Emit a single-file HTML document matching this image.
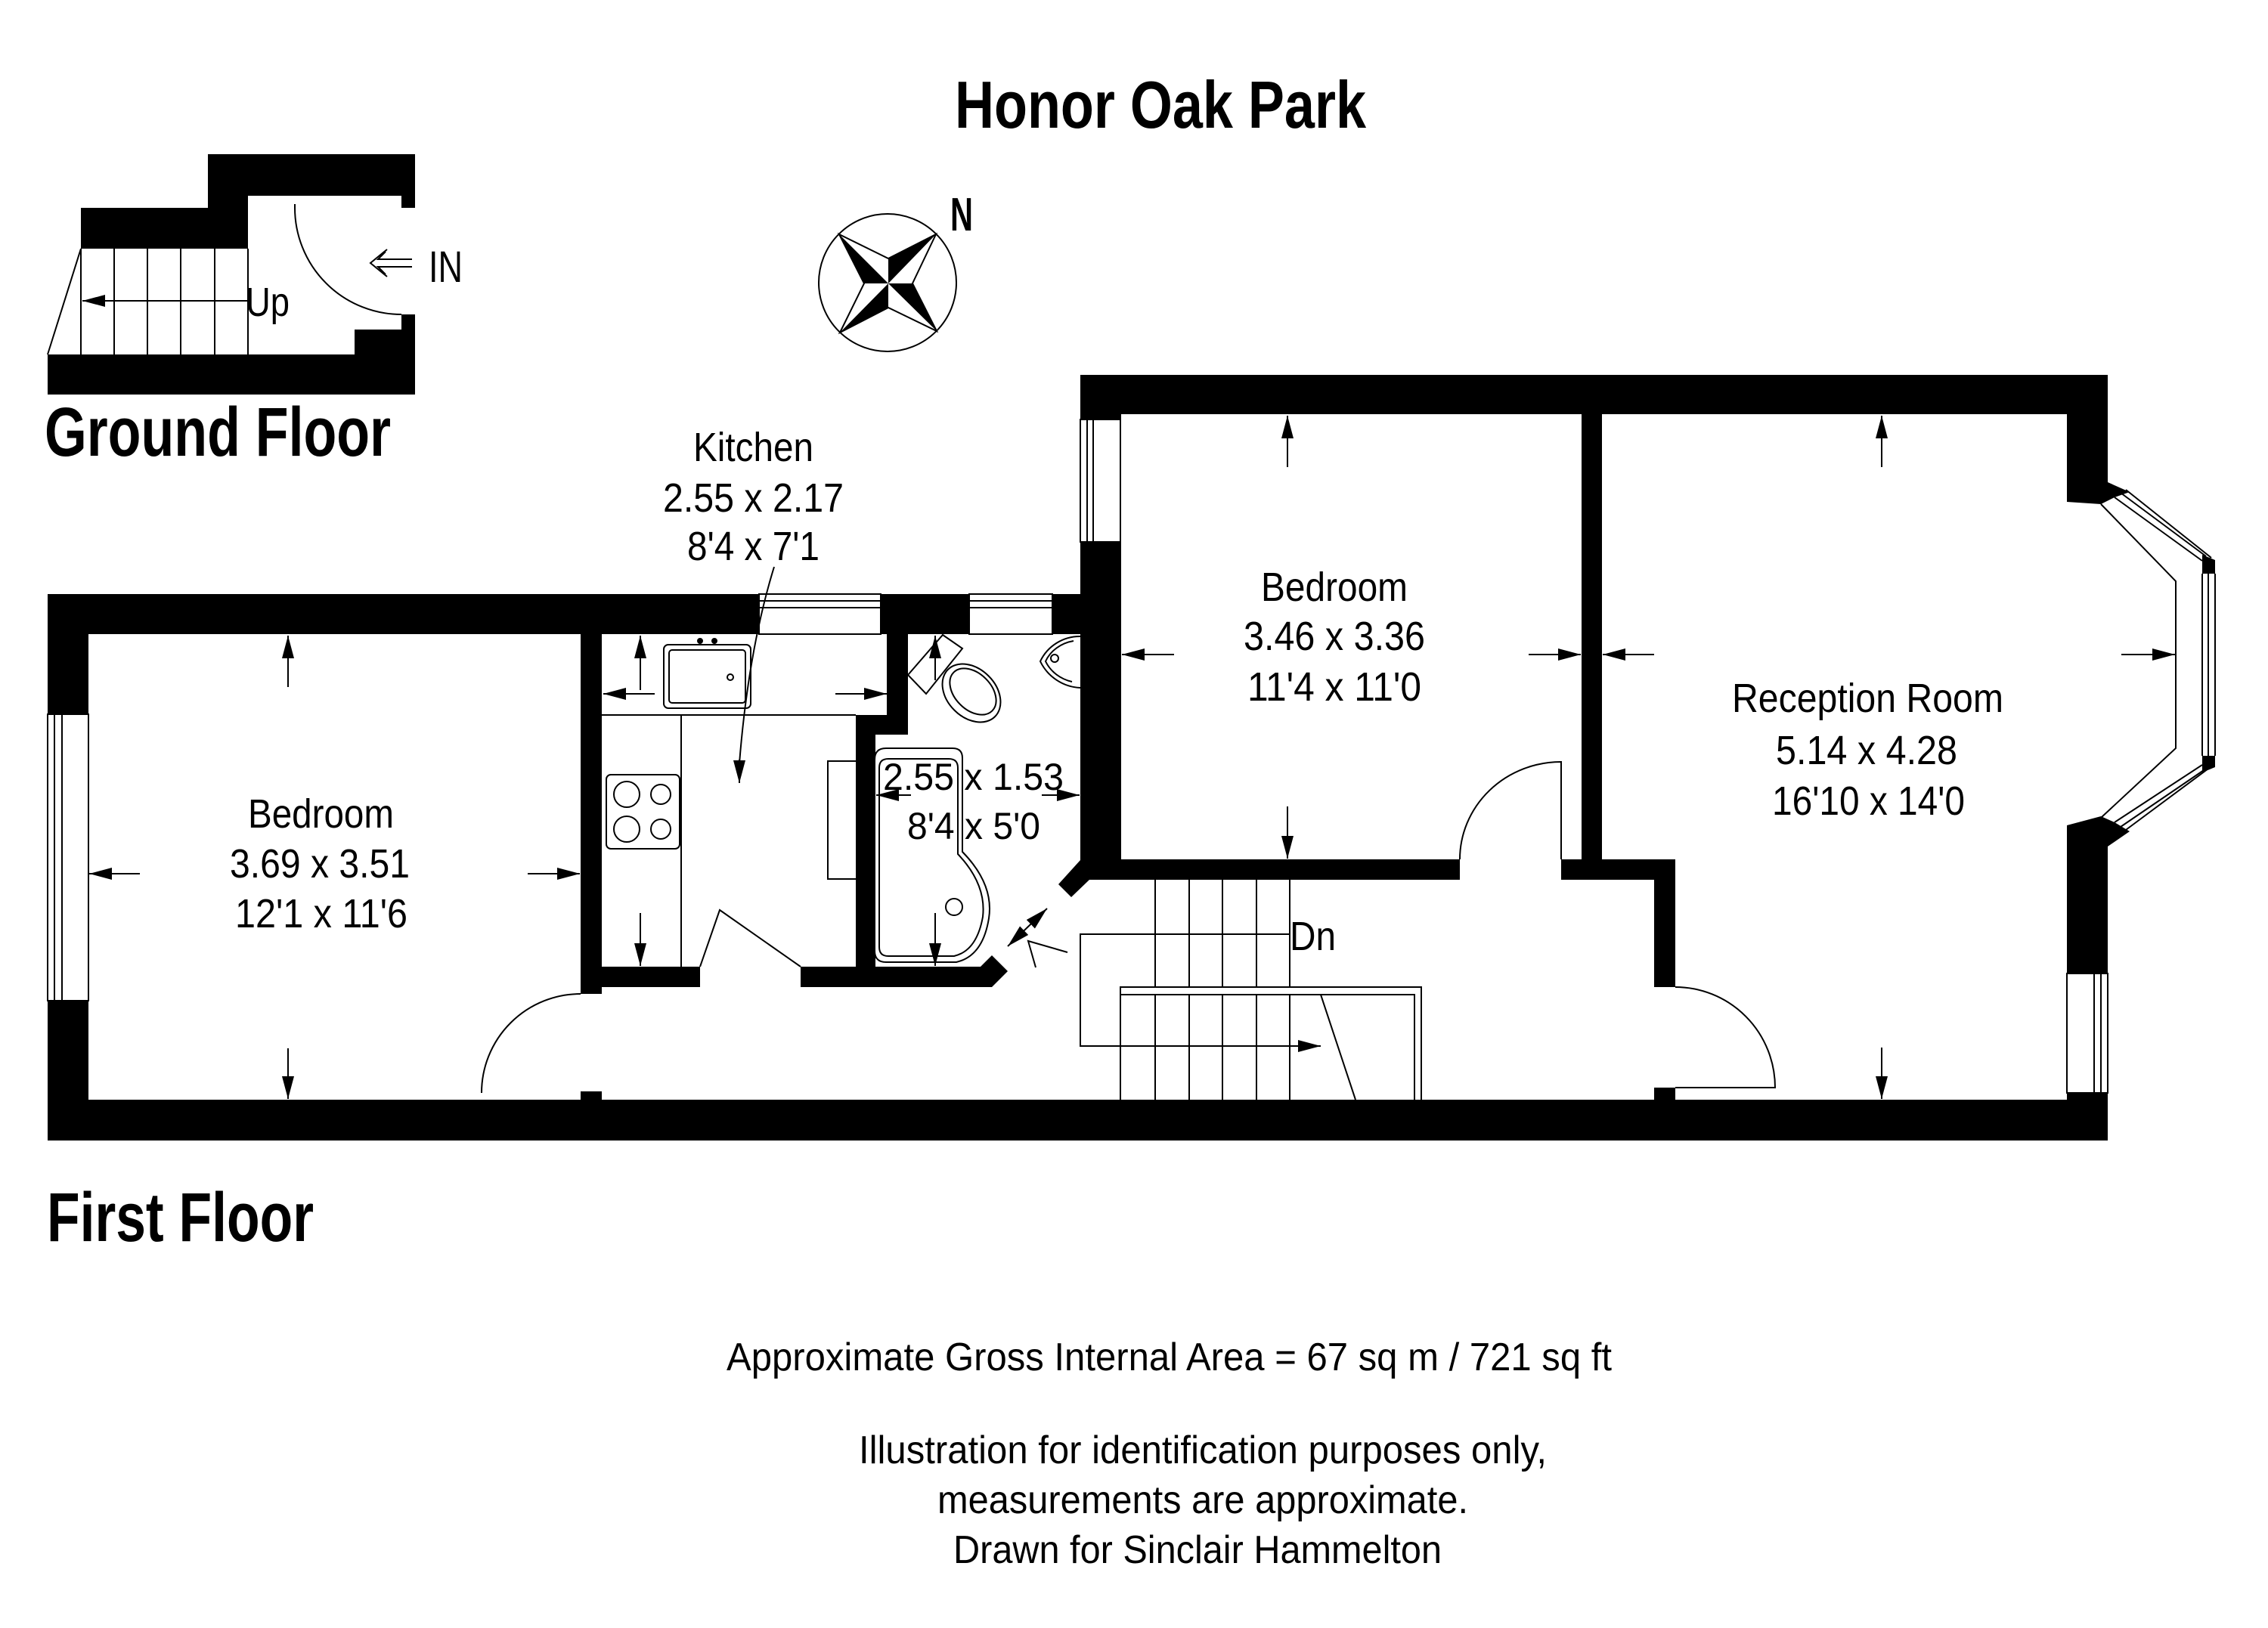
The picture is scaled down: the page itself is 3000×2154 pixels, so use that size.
<!DOCTYPE html>
<html><head><meta charset="utf-8"><style>
html,body{margin:0;padding:0;background:#fff}
svg{display:block}
text{font-family:"Liberation Sans Narrow","Liberation Sans",sans-serif;fill:#000}
.b{font-weight:bold}
</style></head><body>
<svg width="3000" height="2154" viewBox="0 0 3000 2154" xmlns="http://www.w3.org/2000/svg">
<defs>
<marker id="ah" markerUnits="userSpaceOnUse" markerWidth="32" markerHeight="18" refX="30" refY="8" orient="auto">
<path d="M0,0 L30,8 L0,16 Z" fill="#000"/></marker>
<marker id="ahs" markerUnits="userSpaceOnUse" markerWidth="32" markerHeight="18" refX="0" refY="8" orient="auto">
<path d="M30,0 L0,8 L30,16 Z" fill="#000"/></marker>
</defs>
<rect width="3000" height="2154" fill="#fff"/>

<!-- Titles -->
<text class="b" x="1263" y="169" font-size="88" textLength="544" lengthAdjust="spacingAndGlyphs">Honor Oak Park</text>
<text class="b" x="59" y="603" font-size="92" textLength="458" lengthAdjust="spacingAndGlyphs">Ground Floor</text>
<text class="b" x="62" y="1642" font-size="92" textLength="353" lengthAdjust="spacingAndGlyphs">First Floor</text>

<!-- Ground floor -->
<g fill="#000">
<rect x="275" y="204" width="274" height="55"/>
<rect x="275" y="204" width="53" height="125"/>
<rect x="107" y="275" width="221" height="54"/>
<rect x="531" y="259" width="18" height="16"/>
<rect x="63" y="469" width="486" height="53"/>
<rect x="469" y="436" width="80" height="34"/>
<rect x="531" y="416" width="18" height="21"/>
</g>
<g stroke="#000" stroke-width="2" fill="none">
<line x1="151" y1="329" x2="151" y2="469"/><line x1="195" y1="329" x2="195" y2="469"/>
<line x1="239" y1="329" x2="239" y2="469"/><line x1="284" y1="329" x2="284" y2="469"/>
<line x1="328" y1="329" x2="328" y2="469"/><line x1="107" y1="329" x2="107" y2="469"/>
<line x1="107" y1="329" x2="63" y2="469"/>
<line x1="328" y1="398" x2="109" y2="398" marker-end="url(#ah)"/>
<path d="M390,275 A141,141 0 0 0 531,416"/>
<line x1="390" y1="275" x2="390" y2="270"/>
<path d="M545,343 L500,343 L510,333 M545,353 L500,353 L510,363 M512,330 L490,348 L512,366"/>
</g>
<text x="325" y="418" font-size="54" textLength="58" lengthAdjust="spacingAndGlyphs">Up</text>
<text x="567" y="373" font-size="58" textLength="45" lengthAdjust="spacingAndGlyphs">IN</text>

<!-- Compass -->
<circle cx="1174" cy="374" r="91" fill="none" stroke="#000" stroke-width="2"/>
<g fill="#000">
<polygon points="1110,310 1175,375 1143,375"/>
<polygon points="1238,310 1175,375 1175,342"/>
<polygon points="1239,438 1175,375 1207,375"/>
<polygon points="1111,440 1175,375 1175,407"/>
</g>
<polygon points="1110,310 1175,342 1238,310 1207,375 1239,438 1175,407 1111,440 1143,375" fill="none" stroke="#000" stroke-width="2"/>
<text class="b" x="1257" y="305" font-size="62" textLength="30" lengthAdjust="spacingAndGlyphs">N</text>

<!-- First floor walls -->
<g fill="#000">
<rect x="63" y="786" width="1420" height="53"/>
<rect x="63" y="786" width="54" height="159"/>
<rect x="63" y="1324" width="54" height="185"/>
<rect x="63" y="1455" width="2725" height="54"/>
<rect x="768" y="839" width="28" height="476"/>
<rect x="768" y="1444" width="28" height="11"/>
<rect x="796" y="1279" width="130" height="27"/>
<polygon points="1059,1279 1297,1279 1312,1264 1333,1285 1312,1306 1059,1306"/>
<rect x="1132" y="946" width="26" height="360"/>
<rect x="1173" y="839" width="28" height="133"/>
<rect x="1132" y="946" width="69" height="26"/>
<rect x="1429" y="496" width="54" height="667"/>
<polygon points="1429,1138 1442,1163 1417,1187 1400,1170"/>
<rect x="1429" y="496" width="1359" height="52"/>
<rect x="2092" y="548" width="27" height="600"/>
<rect x="1429" y="1137" width="502" height="27"/>
<rect x="2065" y="1137" width="151" height="27"/>
<rect x="2188" y="1137" width="28" height="169"/>
<rect x="2188" y="1439" width="28" height="16"/>
<polygon points="2734,496 2788,496 2788,638 2817,651 2797,658 2779,667 2734,664"/>
<polygon points="2734,1092 2779,1080 2797,1088 2817,1100 2788,1120 2788,1288 2734,1288"/>
<rect x="2734" y="1446" width="54" height="63"/>
<polygon points="2913,734 2930,741 2930,759 2913,759"/>
<polygon points="2913,1000 2930,1000 2930,1015 2913,1022"/>
</g>
<!-- windows -->
<g fill="#fff" stroke="#000" stroke-width="2">
<rect x="1004" y="786" width="161" height="53"/>
<rect x="1282" y="786" width="110" height="53"/>
<rect x="63" y="945" width="54" height="379"/>
<rect x="1429" y="555" width="53" height="162"/>
<rect x="2734" y="1288" width="54" height="158"/>
</g>
<g stroke="#000" stroke-width="2" fill="none">
<line x1="1004" y1="795" x2="1165" y2="795"/><line x1="1004" y1="804" x2="1165" y2="804"/>
<line x1="1282" y1="795" x2="1392" y2="795"/><line x1="1282" y1="804" x2="1392" y2="804"/>
<line x1="72" y1="945" x2="72" y2="1324"/><line x1="82" y1="945" x2="82" y2="1324"/>
<line x1="1438" y1="555" x2="1438" y2="717"/><line x1="1446" y1="555" x2="1446" y2="717"/>
<line x1="2770" y1="1288" x2="2770" y2="1446"/><line x1="2779" y1="1288" x2="2779" y2="1446"/>
<!-- bay -->
<line x1="2797" y1="658" x2="2913" y2="742"/><line x1="2805" y1="652" x2="2918" y2="736"/><line x1="2812" y1="648" x2="2925" y2="738"/>
<line x1="2913" y1="759" x2="2913" y2="1000"/><line x1="2921" y1="759" x2="2921" y2="1000"/><line x1="2930" y1="759" x2="2930" y2="1000"/>
<line x1="2797" y1="1088" x2="2913" y2="1012"/><line x1="2805" y1="1094" x2="2918" y2="1017"/><line x1="2812" y1="1098" x2="2925" y2="1014"/>
<polyline points="2779,667 2878,769 2878,990 2779,1082"/>
<!-- kitchen fittings -->
<line x1="796" y1="946" x2="1132" y2="946"/>
<line x1="901" y1="946" x2="901" y2="1279"/>
<rect x="878" y="853" width="115" height="84" rx="6"/>
<rect x="885" y="860" width="101" height="70" rx="4"/>
<circle cx="926" cy="848" r="3" fill="#000"/><circle cx="945" cy="848" r="3" fill="#000"/>
<circle cx="966" cy="896" r="4"/>
<rect x="802" y="1025" width="97" height="98" rx="6"/>
<circle cx="829" cy="1051" r="17"/><circle cx="874" cy="1051" r="13"/>
<circle cx="829" cy="1097" r="17"/><circle cx="874" cy="1097" r="13"/>
<polyline points="1132,1007 1095,1007 1095,1163 1132,1163"/>
<polyline points="926,1279 952,1204 1059,1279"/>
<path d="M1024,750 Q990,860 978,1010" /><line x1="978" y1="1005" x2="978" y2="1036" marker-end="url(#ah)"/>
<!-- bath fittings -->
<polygon points="1201,893 1247,840 1273,858 1225,918"/>
<ellipse cx="1285" cy="917" rx="44" ry="32" transform="rotate(45 1285 917)"/>
<ellipse cx="1287" cy="915" rx="36" ry="24" transform="rotate(45 1287 915)"/>
<path d="M1429,842 A58,58 0 0 0 1376,875 A62,62 0 0 0 1429,910"/>
<path d="M1420,848 A50,45 0 0 0 1383,875 A52,48 0 0 0 1418,902"/>
<circle cx="1395" cy="871" r="5"/>
<path d="M1172,990 L1260,990 Q1273,990 1273,1003 L1273,1127 Q1315,1170 1308,1215 Q1300,1265 1265,1273 L1172,1273 Q1157,1273 1157,1258 L1157,1005 Q1157,990 1172,990 Z"/>
<path d="M1175,1004 L1255,1004 Q1267,1004 1267,1016 L1267,1130 Q1305,1170 1300,1213 Q1292,1258 1262,1265 L1175,1265 Q1163,1265 1163,1253 L1163,1016 Q1163,1004 1175,1004 Z"/>
<circle cx="1262" cy="1200" r="11"/>
<line x1="1333" y1="1252" x2="1385" y2="1202" marker-end="url(#ah)" marker-start="url(#ahs)"/>
<polyline points="1412,1260 1360,1245 1370,1280"/>
<!-- stairs -->
<line x1="1528" y1="1164" x2="1528" y2="1306"/><line x1="1573" y1="1164" x2="1573" y2="1306"/>
<line x1="1617" y1="1164" x2="1617" y2="1306"/><line x1="1662" y1="1164" x2="1662" y2="1306"/>
<line x1="1706" y1="1164" x2="1706" y2="1306"/>
<line x1="1528" y1="1316" x2="1528" y2="1455"/><line x1="1573" y1="1316" x2="1573" y2="1455"/>
<line x1="1617" y1="1316" x2="1617" y2="1455"/><line x1="1662" y1="1316" x2="1662" y2="1455"/>
<line x1="1706" y1="1316" x2="1706" y2="1455"/>
<polyline points="1706,1236 1429,1236 1429,1384 1745,1384"/>
<line x1="1700" y1="1384" x2="1747" y2="1384" marker-end="url(#ah)"/>
<polyline points="1482,1455 1482,1306 1880,1306 1880,1455"/>
<polyline points="1482,1316 1871,1316 1871,1455"/>
<line x1="1747" y1="1316" x2="1793" y2="1455"/>
<!-- doors -->
<path d="M637,1446 A131,131 0 0 1 768,1315"/>
<path d="M1931,1137 A134,129 0 0 1 2065,1008 L2065,1137"/>
<path d="M2216,1306 A132,133 0 0 1 2348,1439 L2216,1439"/>
<!-- dimension arrows -->
<line x1="381" y1="909" x2="381" y2="841" marker-end="url(#ah)"/>
<line x1="381" y1="1387" x2="381" y2="1454" marker-end="url(#ah)"/>
<line x1="185" y1="1156" x2="118" y2="1156" marker-end="url(#ah)"/>
<line x1="698" y1="1156" x2="767" y2="1156" marker-end="url(#ah)"/>
<line x1="847" y1="913" x2="847" y2="841" marker-end="url(#ah)"/>
<line x1="866" y1="918" x2="798" y2="918" marker-end="url(#ah)"/>
<line x1="1105" y1="918" x2="1173" y2="918" marker-end="url(#ah)"/>
<line x1="847" y1="1208" x2="847" y2="1278" marker-end="url(#ah)"/>
<line x1="1237" y1="900" x2="1237" y2="841" marker-end="url(#ah)"/>
<line x1="1205" y1="1052" x2="1159" y2="1052" marker-end="url(#ah)"/>
<line x1="1378" y1="1052" x2="1428" y2="1052" marker-end="url(#ah)"/>
<line x1="1237" y1="1208" x2="1237" y2="1278" marker-end="url(#ah)"/>
<line x1="1703" y1="618" x2="1703" y2="550" marker-end="url(#ah)"/>
<line x1="1553" y1="866" x2="1484" y2="866" marker-end="url(#ah)"/>
<line x1="2022" y1="866" x2="2091" y2="866" marker-end="url(#ah)"/>
<line x1="1703" y1="1067" x2="1703" y2="1136" marker-end="url(#ah)"/>
<line x1="2489" y1="618" x2="2489" y2="550" marker-end="url(#ah)"/>
<line x1="2188" y1="866" x2="2120" y2="866" marker-end="url(#ah)"/>
<line x1="2806" y1="866" x2="2877" y2="866" marker-end="url(#ah)"/>
<line x1="2489" y1="1386" x2="2489" y2="1454" marker-end="url(#ah)"/>
</g>

<!-- Room labels -->
<g font-size="54">
<text x="917" y="610" textLength="159" lengthAdjust="spacingAndGlyphs">Kitchen</text>
<text x="877" y="677" textLength="239" lengthAdjust="spacingAndGlyphs">2.55 x 2.17</text>
<text x="909" y="741" textLength="175" lengthAdjust="spacingAndGlyphs">8'4 x 7'1</text>
<text x="328" y="1095" textLength="193" lengthAdjust="spacingAndGlyphs">Bedroom</text>
<text x="304" y="1161" textLength="238" lengthAdjust="spacingAndGlyphs">3.69 x 3.51</text>
<text x="311" y="1227" textLength="228" lengthAdjust="spacingAndGlyphs">12'1 x 11'6</text>
<text x="1668" y="795" textLength="194" lengthAdjust="spacingAndGlyphs">Bedroom</text>
<text x="1645" y="860" textLength="240" lengthAdjust="spacingAndGlyphs">3.46 x 3.36</text>
<text x="1650" y="927" textLength="230" lengthAdjust="spacingAndGlyphs">11'4 x 11'0</text>
<text x="2291" y="942" textLength="359" lengthAdjust="spacingAndGlyphs">Reception Room</text>
<text x="2349" y="1011" textLength="240" lengthAdjust="spacingAndGlyphs">5.14 x 4.28</text>
<text x="2344" y="1078" textLength="255" lengthAdjust="spacingAndGlyphs">16'10 x 14'0</text>
<text x="1706" y="1257" textLength="61" lengthAdjust="spacingAndGlyphs">Dn</text>
</g>
<g font-size="50">
<text x="1168" y="1045" textLength="239" lengthAdjust="spacingAndGlyphs">2.55 x 1.53</text>
<text x="1200" y="1110" textLength="176" lengthAdjust="spacingAndGlyphs">8'4 x 5'0</text>
</g>

<!-- Footer -->
<g font-size="52">
<text x="961" y="1813" textLength="1171" lengthAdjust="spacingAndGlyphs">Approximate Gross Internal Area = 67 sq m / 721 sq ft</text>
<text x="1136" y="1936" textLength="910" lengthAdjust="spacingAndGlyphs">Illustration for identification purposes only,</text>
<text x="1240" y="2002" textLength="702" lengthAdjust="spacingAndGlyphs">measurements are approximate.</text>
<text x="1261" y="2068" textLength="646" lengthAdjust="spacingAndGlyphs">Drawn for Sinclair Hammelton</text>
</g>
</svg>
</body></html>
